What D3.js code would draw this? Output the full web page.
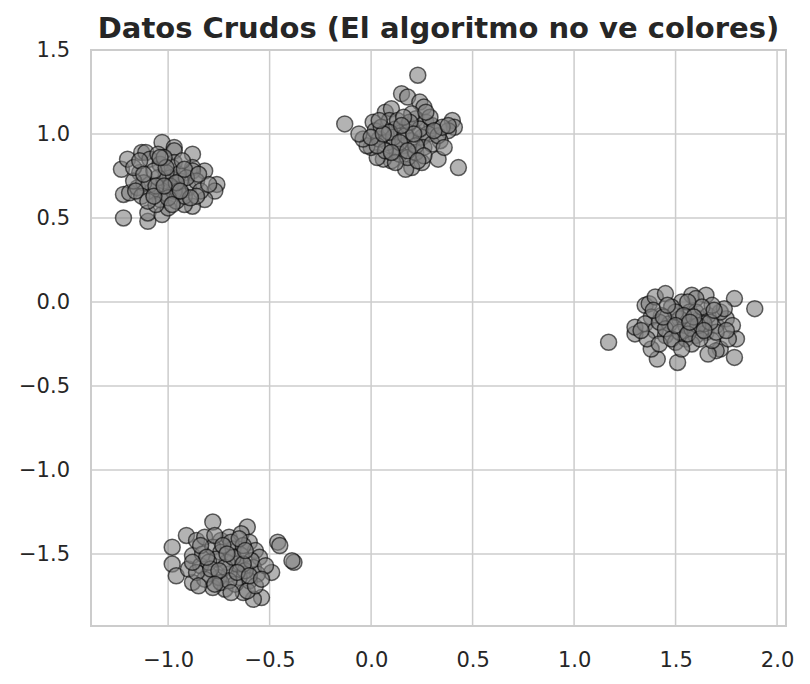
<!DOCTYPE html>
<html>
<head>
<meta charset="utf-8">
<script src="https://cdn.jsdelivr.net/npm/d3@7"></script>
<style>
  body { margin: 0; background: #fff; }
  svg { display: block; font-family: "DejaVu Sans", sans-serif; }
</style>
</head>
<body>
<svg width="810" height="684"></svg>
<script>
// cluster points: [x, y]
const cluster1 = [
  [-1.22,0.50],[-1.10,0.48],[-1.10,0.53],[-1.23,0.79],[-1.22,0.64],[-1.19,0.65],[-1.20,0.85],[-1.13,0.89],
  [-1.11,0.89],[-1.03,0.95],[-0.97,0.92],[-0.97,0.90],[-0.88,0.88],[-0.82,0.78],[-0.76,0.70],[-0.77,0.66],
  [-0.82,0.61],[-0.88,0.57],[-0.92,0.58],[-1.03,0.52],[-1.00,0.56],[-0.96,0.60],[-1.14,0.77],[-1.15,0.68],
  [-1.09,0.85],[-1.05,0.88],[-1.04,0.82],[-0.97,0.83],[-0.98,0.80],[-0.88,0.80],[-0.88,0.78],[-0.90,0.68],
  [-0.92,0.63],[-0.97,0.66],[-1.03,0.65],[-1.04,0.61],[-1.08,0.66],[-1.09,0.70],[-1.12,0.71],[-1.02,0.72],
  [-0.99,0.74],[-0.94,0.72],[-0.95,0.76],[-1.01,0.77],[-1.05,0.74],[-1.07,0.78],[-0.86,0.72],[-0.84,0.66],
  [-0.86,0.63],[-1.13,0.63],[-1.17,0.72],[-1.17,0.80],[-1.02,0.86],[-0.93,0.84],[-1.06,0.58],[-0.99,0.69],
  [-1.10,0.60],[-0.95,0.66],[-0.91,0.74],[-1.14,0.84],[-1.00,0.62],[-0.80,0.70],[-1.06,0.69],[-0.96,0.71],
  [-1.12,0.76],[-0.92,0.79],[-1.01,0.80],[-0.89,0.62],[-1.07,0.63],[-0.98,0.58],[-1.04,0.86],[-0.94,0.66],
  [-1.16,0.66],[-0.85,0.76],[-1.02,0.69]
];
const cluster2 = [
  [-0.13,1.06],[0.23,1.35],[0.43,0.80],[0.15,1.24],[0.18,1.22],[0.24,1.19],[0.26,1.16],[0.40,1.08],
  [0.41,1.04],[0.38,1.02],[0.34,0.96],[0.33,0.85],[0.25,0.83],[0.20,0.80],[0.17,0.79],[0.10,0.84],
  [0.06,0.85],[0.03,0.86],[0.00,0.92],[-0.02,0.93],[-0.04,0.97],[-0.06,1.00],[0.01,1.07],[0.07,1.13],
  [0.10,1.15],[0.09,1.08],[0.12,1.03],[0.15,1.01],[0.18,1.05],[0.22,1.09],[0.27,1.07],[0.30,1.05],
  [0.28,1.00],[0.25,0.98],[0.20,0.96],[0.16,0.93],[0.12,0.92],[0.08,0.95],[0.04,0.97],[0.02,1.02],
  [0.05,1.04],[0.14,0.88],[0.18,0.86],[0.22,0.89],[0.26,0.92],[0.30,0.94],[0.33,0.99],[0.35,1.04],
  [0.20,1.12],[0.24,1.03],[0.11,0.98],[0.07,0.90],[0.17,0.99],[0.22,0.93],[0.13,1.08],[0.29,1.10],
  [0.03,0.93],[0.19,1.07],[0.09,1.01],[0.16,1.10],[0.26,0.87],[0.31,1.02],[0.38,1.05],[0.12,0.83],
  [0.00,0.98],[0.21,1.00],[0.27,1.13],[0.06,1.00],[0.14,0.95],[0.18,0.90],[0.23,0.84],[0.36,0.92],
  [0.04,1.08],[0.10,0.89],[0.15,1.05]
];
const cluster3 = [
  [1.17,-0.24],[1.89,-0.04],[1.79,0.02],[1.79,-0.33],[1.72,-0.28],[1.70,-0.29],[1.66,-0.31],[1.51,-0.36],
  [1.41,-0.34],[1.38,-0.28],[1.30,-0.19],[1.30,-0.15],[1.35,-0.02],[1.37,-0.01],[1.40,0.03],[1.45,0.05],
  [1.58,0.04],[1.65,0.04],[1.60,0.02],[1.53,0.00],[1.48,-0.03],[1.43,-0.08],[1.38,-0.09],[1.35,-0.13],
  [1.40,-0.17],[1.45,-0.20],[1.50,-0.24],[1.55,-0.22],[1.60,-0.20],[1.65,-0.18],[1.70,-0.14],[1.75,-0.10],
  [1.78,-0.14],[1.80,-0.22],[1.76,-0.22],[1.68,-0.23],[1.62,-0.10],[1.57,-0.06],[1.52,-0.10],[1.47,-0.13],
  [1.42,-0.12],[1.55,-0.14],[1.60,-0.06],[1.66,-0.08],[1.72,-0.06],[1.74,-0.04],[1.68,-0.02],[1.63,-0.03],
  [1.56,0.00],[1.50,-0.06],[1.45,-0.16],[1.52,-0.18],[1.58,-0.16],[1.64,-0.13],[1.36,-0.22],[1.42,-0.25],
  [1.58,-0.25],[1.70,-0.18],[1.48,-0.22],[1.54,-0.08],[1.61,-0.14],[1.67,-0.12],[1.39,-0.05],[1.53,-0.28],
  [1.44,-0.09],[1.59,-0.09],[1.75,-0.17],[1.50,-0.14],[1.56,-0.19],[1.62,-0.22],[1.33,-0.17],[1.46,-0.02],
  [1.69,-0.05],[1.57,-0.12],[1.64,-0.17]
];
const cluster4 = [
  [-0.98,-1.46],[-0.98,-1.56],[-0.96,-1.63],[-0.91,-1.39],[-0.78,-1.31],[-0.61,-1.34],[-0.46,-1.43],[-0.45,-1.45],
  [-0.38,-1.55],[-0.39,-1.54],[-0.49,-1.61],[-0.54,-1.76],[-0.58,-1.77],[-0.63,-1.73],[-0.72,-1.71],[-0.78,-1.70],
  [-0.88,-1.67],[-0.90,-1.59],[-0.88,-1.51],[-0.86,-1.42],[-0.82,-1.40],[-0.74,-1.42],[-0.70,-1.40],[-0.64,-1.38],
  [-0.60,-1.43],[-0.57,-1.48],[-0.55,-1.52],[-0.58,-1.58],[-0.56,-1.62],[-0.60,-1.66],[-0.65,-1.64],[-0.70,-1.62],
  [-0.75,-1.64],[-0.80,-1.62],[-0.84,-1.57],[-0.83,-1.50],[-0.78,-1.46],[-0.74,-1.49],[-0.68,-1.47],[-0.64,-1.51],
  [-0.66,-1.56],[-0.71,-1.55],[-0.76,-1.53],[-0.80,-1.55],[-0.72,-1.58],[-0.62,-1.60],[-0.67,-1.68],[-0.74,-1.67],
  [-0.82,-1.65],[-0.61,-1.72],[-0.69,-1.43],[-0.77,-1.39],[-0.63,-1.45],[-0.59,-1.54],[-0.68,-1.52],[-0.86,-1.61],
  [-0.73,-1.45],[-0.52,-1.57],[-0.79,-1.59],[-0.70,-1.66],[-0.65,-1.41],[-0.84,-1.45],[-0.57,-1.69],[-0.75,-1.60],
  [-0.63,-1.56],[-0.81,-1.52],[-0.88,-1.55],[-0.66,-1.61],[-0.71,-1.50],[-0.60,-1.63],[-0.54,-1.65],[-0.77,-1.68],
  [-0.69,-1.73],[-0.85,-1.69],[-0.62,-1.48]
];
const xTicks = [-1.0, -0.5, 0.0, 0.5, 1.0, 1.5, 2.0];
const yTicks = [-1.5, -1.0, -0.5, 0.0, 0.5, 1.0, 1.5];
const title = "Datos Crudos (El algoritmo no ve colores)";

const allPoints = cluster1.concat(cluster2, cluster3, cluster4);

const svg = d3.select("svg");
const margin = {top: 50, right: 24, bottom: 58, left: 91};
const width = +svg.attr("width") - margin.left - margin.right;
const height = +svg.attr("height") - margin.top - margin.bottom;

const x = d3.scaleLinear().domain([-1.38, 2.044]).range([0, width]);
const y = d3.scaleLinear().domain([-1.929, 1.5]).range([height, 0]);

const g = svg.append("g")
    .attr("transform", "translate(" + margin.left + "," + margin.top + ")");

// grid
g.append("g").selectAll("line").data(xTicks).join("line")
    .attr("x1", d => x(d)).attr("x2", d => x(d))
    .attr("y1", 0).attr("y2", height)
    .attr("stroke", "#cccccc").attr("stroke-width", 1.5);
g.append("g").selectAll("line").data(yTicks).join("line")
    .attr("y1", d => y(d)).attr("y2", d => y(d))
    .attr("x1", 0).attr("x2", width)
    .attr("stroke", "#cccccc").attr("stroke-width", 1.5);

const fmt = d => d3.format(".1f")(d).replace("-", "\u2212");

// axes (labels only, seaborn whitegrid has no tick marks)
const xAxis = g.append("g")
    .attr("transform", "translate(0," + height + ")")
    .call(d3.axisBottom(x).tickValues(xTicks).tickSize(0).tickPadding(26).tickFormat(fmt));
xAxis.select(".domain").remove();

const yAxis = g.append("g")
    .call(d3.axisLeft(y).tickValues(yTicks).tickSize(0).tickPadding(21).tickFormat(fmt));
yAxis.select(".domain").remove();

svg.selectAll(".tick text")
    .attr("font-family", "DejaVu Sans")
    .attr("font-size", 21)
    .attr("fill", "#262626");

// points
g.append("g").selectAll("circle").data(allPoints).join("circle")
    .attr("cx", d => x(d[0]))
    .attr("cy", d => y(d[1]))
    .attr("r", 8)
    .attr("fill", "rgba(128,128,128,0.6)")
    .attr("stroke", "rgba(0,0,0,0.6)")
    .attr("stroke-width", 1.5);

// frame
g.append("rect")
    .attr("width", width).attr("height", height)
    .attr("fill", "none")
    .attr("stroke", "#cccccc").attr("stroke-width", 2);

svg.append("text")
    .attr("x", margin.left + width / 2)
    .attr("y", 38)
    .attr("text-anchor", "middle")
    .attr("font-size", "29px")
    .attr("font-weight", "bold")
    .attr("fill", "#262626")
    .text(title);
</script>
</body>
</html>
